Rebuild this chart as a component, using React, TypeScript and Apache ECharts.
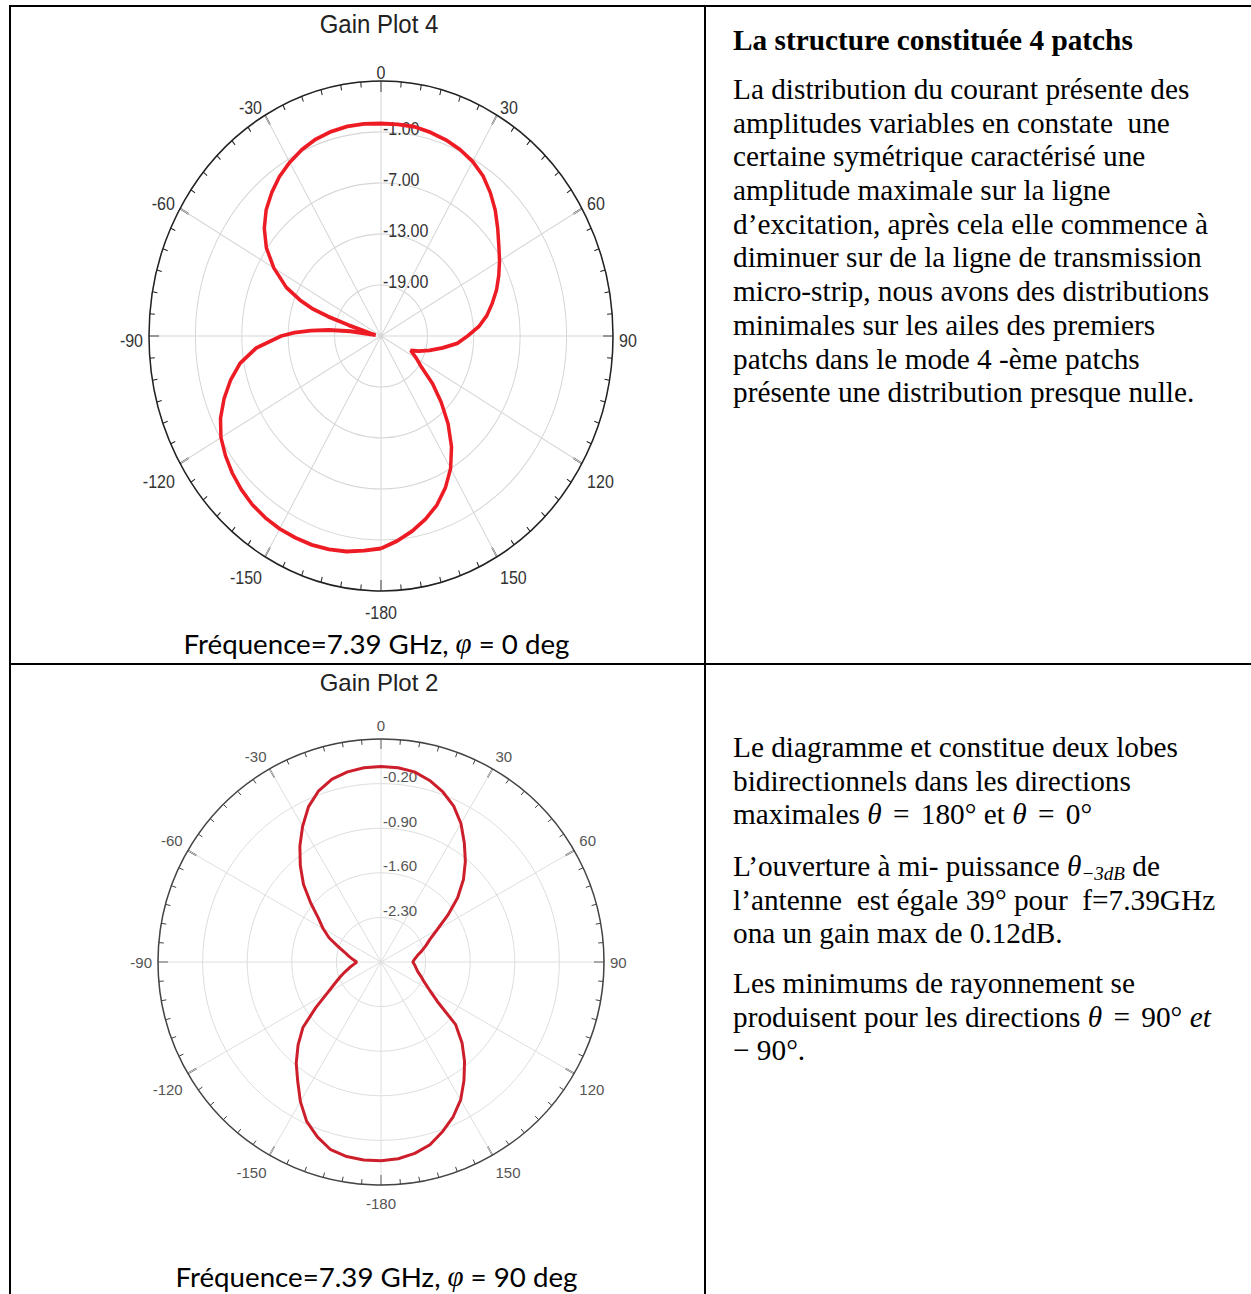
import React, { useEffect, useRef } from 'react';
import * as echarts from 'echarts';

// ---------- Data ----------
const ANGLE_TICK_LABELS = ['0', '30', '60', '90', '120', '150', '-180', '-150', '-120', '-90', '-60', '-30'];

// Gain Plot 4 (phi = 0 deg): theta (deg) and gain (dB)
const PLOT4_THETA = [
  -180, -175, -170, -165, -160, -155, -150, -145, -140, -135, -130, -125, -120, -115, -110, -105, -100, -95,
  -90, -88, -86, -84, -82, -81, -79, -77, -75, -73, -71.5, -70, -68, -65, -60, -55, -50, -45, -40, -35, -30,
  -25, -20, -15, -10, -5, 0, 5, 10, 15, 20, 25, 30, 35, 40, 45, 50, 55, 60, 65, 70, 75, 80, 85, 90, 95, 100,
  105, 110, 114, 117, 120, 125, 130, 135, 140, 145, 150, 155, 160, 165, 170, 175, 180,
];
const PLOT4_GAIN = [
  0.0, 0.35, 0.75, 1.0, 1.15, 1.2, 1.2, 1.1, 0.9, 0.55, 0.1, -0.45, -1.1, -2.1, -3.4, -4.85, -6.5, -8.8,
  -12.1, -13.8, -15.9, -18.2, -21.0, -24.3, -24.0, -23.6, -22.8, -20.6, -17.8, -15.5, -13.7, -11.5, -9.0, -6.9, -5.3, -4.0, -3.0, -2.1, -1.4,
  -0.8, -0.35, -0.1, 0.05, 0.05, 0.0, 0.0, 0.0, -0.2, -0.45, -0.8, -1.3, -2.0, -3.0, -4.1, -5.3, -6.4, -7.3, -8.2, -9.1, -10.1, -11.1, -12.3, -13.8, -15.1, -16.9,
  -18.5, -19.8, -20.8, -20.3, -19.7, -18.6, -16.3, -14.0, -11.5, -9.1, -7.0, -5.3, -3.85, -2.7, -1.7, -0.8, 0.0,
];
const PLOT4_RADIUS = { min: -25, max: 5, step: 6 };

// Gain Plot 2 (phi = 90 deg)
const PLOT2_THETA = [
  -180, -175, -170, -165, -160, -155, -150, -145, -140, -135, -130, -125, -120, -115, -110, -105, -100, -95,
  -90, -85, -80, -75, -70, -65, -60, -55, -50, -45, -40, -35, -30, -25, -20, -15, -10, -5,
  0, 5, 10, 15, 20, 25, 30, 35, 40, 45, 50, 55, 60, 65, 70, 75, 80, 85,
  90, 95, 100, 105, 110, 115, 120, 125, 130, 135, 140, 145, 150, 155, 160, 165, 170, 175, 180,
];
const PLOT2_GAIN = [
  0.12, 0.12, 0.10, 0.05, -0.08, -0.24, -0.47, -0.72, -0.93, -1.16, -1.40, -1.75, -2.03, -2.20, -2.32, -2.42, -2.50, -2.57,
  -2.62, -2.56, -2.49, -2.41, -2.28, -2.10, -1.95, -1.80, -1.56, -1.28, -1.03, -0.78, -0.54, -0.31, -0.14, -0.03, 0.03, 0.06,
  0.07, 0.06, 0.03, -0.05, -0.16, -0.30, -0.49, -0.72, -0.94, -1.17, -1.43, -1.72, -1.98, -2.15, -2.25, -2.34, -2.42, -2.47,
  -2.50, -2.47, -2.44, -2.40, -2.33, -2.25, -2.12, -1.92, -1.47, -1.20, -0.96, -0.73, -0.50, -0.32, -0.17, -0.03, 0.05, 0.10, 0.12,
];
const PLOT2_RADIUS = { min: -3.0, max: 0.5, step: 0.7 };

// ---------- Texts ----------
const CELL1_TITLE = 'La structure constituée 4 patchs';
const CELL1_LINES = [
  'La distribution du courant présente des',
  'amplitudes variables en constate  une',
  'certaine symétrique caractérisé une',
  'amplitude maximale sur la ligne',
  'd’excitation, après cela elle commence à',
  'diminuer sur de la ligne de transmission',
  'micro-strip, nous avons des distributions',
  'minimales sur les ailes des premiers',
  'patchs dans le mode 4 -ème patchs',
  'présente une distribution presque nulle.',
];
const CELL2_PARA1 = [
  'Le diagramme et constitue deux lobes',
  'bidirectionnels dans les directions',
  'maximales {m|θ} {eq|=} {n|180°} et {m|θ} {eq|=} {n|0°}',
];
const CELL2_PARA2 = [
  'L’ouverture à mi- puissance {m|θ}{sub|−3dB} de',
  'l’antenne  est égale 39° pour  f=7.39GHz',
  'ona un gain max de 0.12dB.',
];
const CELL2_PARA3 = [
  'Les minimums de rayonnement se',
  'produisent pour les directions {m|θ} {eq|=} {n|90°} {m|et}',
  '{n|− 90°}.',
];
const CAPTION1 = 'Fréquence=7.39 GHz, {phi|φ} = 0 deg';
const CAPTION2 = 'Fréquence=7.39 GHz, {phi|φ} = 90 deg';

const SANS = 'Liberation Sans, Arial, sans-serif';
const SERIF = 'Liberation Serif, Times New Roman, serif';
const CAL = 'Lato, Carlito, sans-serif';

const BODY_SIZE = 29.3;
const LINE_H = 33.7;

function polarOption(cfg: any) {
  const r = cfg.radiusRange;
  const base = { fontFamily: SANS, fontSize: cfg.labelSize, color: cfg.labelColor };
  return {
    animation: false,
    title: {
      text: cfg.title,
      left: 'center',
      top: cfg.titleTop,
      textStyle: { fontFamily: SANS, fontSize: 24, fontWeight: 'normal', color: '#222' },
    },
    polar: { center: cfg.center, radius: cfg.radius },
    angleAxis: {
      type: 'value',
      min: 0,
      max: 360,
      interval: 30,
      startAngle: 90,
      clockwise: true,
      axisLine: { show: true, lineStyle: { color: cfg.axisColor, width: 1.5 } },
      axisTick: { show: true, inside: true, length: 10, lineStyle: { color: cfg.axisColor, width: 1.5 } },
      minorTick: { show: true, splitNumber: 6, length: 5, lineStyle: { color: cfg.axisColor, width: 1 } },
      axisLabel: {
        margin: 6,
        ...base,
        formatter: (v: number) => {
          const idx = Math.round(v / 30);
          const txt = ANGLE_TICK_LABELS[idx];
          if (txt === undefined) return '';
          const pos = idx === 3 || idx === 9 ? 's' : idx >= 4 && idx <= 8 ? 'l' : 'u';
          return `{${pos}|${txt}}`;
        },
        rich: {
          u: { ...base, lineHeight: cfg.upLH },
          s: { ...base, padding: [cfg.sidePad, 0, 0, 0] },
          l: { ...base, padding: [cfg.lowPad, 0, 0, 0] },
        },
      },
      splitLine: { show: true, lineStyle: { color: cfg.gridColor, width: 1 } },
    },
    radiusAxis: {
      type: 'value',
      min: r.min,
      max: r.max,
      interval: r.step,
      axisLine: { show: false },
      axisTick: { show: false },
      axisLabel: {
        ...base,
        margin: -2,
        align: 'left',
        formatter: (v: number) =>
          Math.abs(v - r.min) < 1e-6 || Math.abs(v - r.max) < 1e-6 ? '' : `{r|${v.toFixed(2)}}`,
        rich: {
          r: { ...base, padding: [0, 0, cfg.radLift, 0] },
        },
      },
      splitLine: { show: true, lineStyle: { color: cfg.gridColor, width: 1 } },
    },
    series: [
      {
        type: 'line',
        coordinateSystem: 'polar',
        data: cfg.theta.map((t: number, i: number) => [cfg.gain[i], t]),
        showSymbol: false,
        symbol: 'none',
        z: 5,
        lineStyle: { color: cfg.lineColor, width: cfg.lineWidth },
      },
    ],
  };
}

function bodyRich() {
  return {
    m: { fontFamily: SERIF, fontStyle: 'italic', fontSize: BODY_SIZE, fill: '#000', lineHeight: LINE_H },
    n: { fontFamily: SERIF, fontSize: BODY_SIZE, fill: '#000', lineHeight: LINE_H },
    eq: { fontFamily: SERIF, fontSize: BODY_SIZE, fill: '#000', lineHeight: LINE_H, padding: [0, 4, 0, 4] },
    sub: { fontFamily: SERIF, fontStyle: 'italic', fontSize: 19, fill: '#000', lineHeight: 24, verticalAlign: 'bottom' },
  };
}

function para(lines: string[], x: number, firstCenter: number, bold = false) {
  return {
    type: 'text',
    x,
    y: firstCenter - LINE_H / 2,
    style: {
      text: lines.join('\n'),
      fontFamily: SERIF,
      fontSize: BODY_SIZE,
      fontWeight: bold ? 'bold' : 'normal',
      fill: '#000',
      lineHeight: LINE_H,
      align: 'left',
      verticalAlign: 'top',
      rich: bodyRich(),
    },
  };
}

function caption(text: string, y: number) {
  return {
    type: 'text',
    x: 376.5,
    y,
    style: {
      text,
      fontFamily: CAL,
      fontSize: 27.7,
      fill: '#000',
      align: 'center',
      verticalAlign: 'middle',
      rich: {
        phi: { fontFamily: SERIF, fontStyle: 'italic', fontSize: 29, fill: '#000' },
      },
    },
  };
}

function hline(x1: number, x2: number, y: number) {
  return { type: 'line', shape: { x1, y1: y, x2, y2: y }, style: { stroke: '#000', lineWidth: 2 } };
}
function vline(x: number, y1: number, y2: number) {
  return { type: 'line', shape: { x1: x, y1, x2: x, y2 }, style: { stroke: '#000', lineWidth: 2 } };
}

function bgOption() {
  return {
    animation: false,
    graphic: [
      hline(9, 1251, 6),
      hline(9, 1251, 664),
      vline(10, 5, 1294),
      vline(705, 5, 1294),
      para([CELL1_TITLE], 733, 40, true),
      para(CELL1_LINES, 733, 89),
      para(CELL2_PARA1, 733, 747),
      para(CELL2_PARA2, 733, 866),
      para(CELL2_PARA3, 733, 983),
      caption(CAPTION1, 643),
      caption(CAPTION2, 1276),
    ],
  };
}

export default function App() {
  const bgRef = useRef<HTMLDivElement>(null);
  const c1Ref = useRef<HTMLDivElement>(null);
  const c2Ref = useRef<HTMLDivElement>(null);

  useEffect(() => {
    const bg = echarts.init(bgRef.current!, null, { renderer: 'svg' });
    bg.setOption(bgOption() as any);

    const c1 = echarts.init(c1Ref.current!, null, { renderer: 'svg' });
    c1.setOption(
      polarOption({
        title: 'Gain Plot 4',
        titleTop: 34.5,
        center: [381, 336],
        radius: 232,
        radiusRange: PLOT4_RADIUS,
        axisColor: '#222',
        labelColor: '#333',
        labelSize: 16,
        gridColor: '#d6d6d6',
        upLH: 2,
        sidePad: 10,
        lowPad: 6,
        radLift: 5,
        theta: PLOT4_THETA,
        gain: PLOT4_GAIN,
        lineColor: '#ed1c24',
        lineWidth: 3.5,
      }) as any
    );

    const c2 = echarts.init(c2Ref.current!, null, { renderer: 'svg' });
    c2.setOption(
      polarOption({
        title: 'Gain Plot 2',
        titleTop: 2,
        center: [381, 299],
        radius: 223,
        radiusRange: PLOT2_RADIUS,
        axisColor: '#444',
        labelColor: '#555',
        labelSize: 15,
        gridColor: '#dedede',
        upLH: 15,
        sidePad: 0,
        lowPad: 5,
        radLift: 14,
        theta: PLOT2_THETA,
        gain: PLOT2_GAIN,
        lineColor: '#cc1f2b',
        lineWidth: 3,
      }) as any
    );

    return () => {
      bg.dispose();
      c1.dispose();
      c2.dispose();
    };
  }, []);

  return (
    <div
      style={{
        position: 'absolute',
        left: 0,
        top: 0,
        width: 1251,
        height: 1294,
        background: '#fff',
        overflow: 'hidden',
      }}
    >
      <div ref={bgRef} style={{ position: 'absolute', left: 0, top: 0, width: 1251, height: 1294 }} />
      <div
        ref={c1Ref}
        style={{
          position: 'absolute',
          left: 0,
          top: 0,
          width: 758,
          height: 620,
          transform: 'scaleY(1.099)',
          transformOrigin: '381px 336px',
        }}
      />
      <div ref={c2Ref} style={{ position: 'absolute', left: 0, top: 663, width: 758, height: 631 }} />
    </div>
  );
}
